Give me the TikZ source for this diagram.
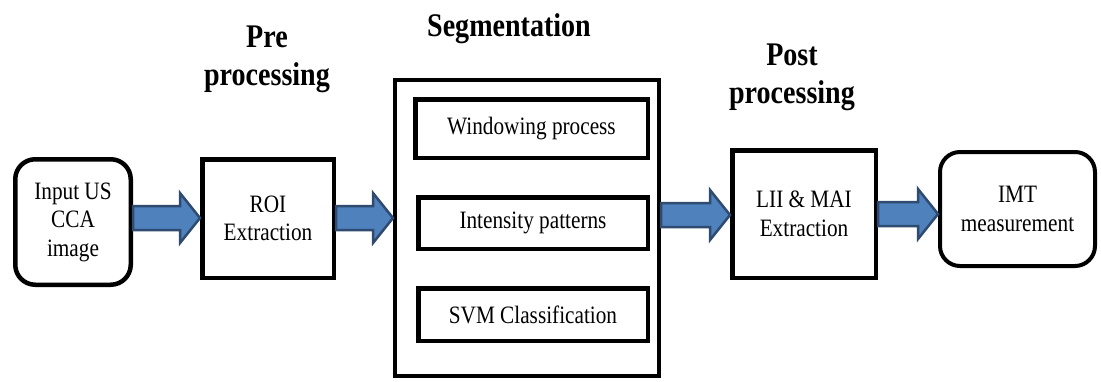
\documentclass[tikz,border=0pt]{standalone}
\usepackage{fontspec}
\setmainfont[FakeStretch=0.85]{Liberation Serif}
\usetikzlibrary{calc}
\definecolor{arrfill}{HTML}{4F81BD}
\definecolor{arrline}{HTML}{2F4B70}
\tikzset{
  boxA/.style={draw=black, line width=4.5pt, fill=white, inner sep=0pt, align=center,
    font=\fontsize{25}{28.5}\selectfont},
  roundbox/.style={boxA, rounded corners=20pt},
  titletext/.style={align=center, inner sep=0pt, font=\fontsize{33}{38}\selectfont\bfseries},
  barrow/.style={fill=arrfill, draw=arrline, line width=2.5pt, line join=miter},
}
\newcommand\blockarr[3]{%
  \path let \p1=(#1.east), \p2=(#2.west), \p3=(#3) in
    [barrow] (\x1,\y3-12pt) -- (\x2-20pt,\y3-12pt) -- (\x2-20pt,\y3-25pt) -- (\x2,\y3)
      -- (\x2-20pt,\y3+25pt) -- (\x2-20pt,\y3+12pt) -- (\x1,\y3+12pt) -- cycle;}
\begin{document}
\begin{tikzpicture}[x=1pt,y=-1pt]
\useasboundingbox (0,0) rectangle (1101,381);
% axes for block arrows
\coordinate (ax1) at (0,218);
\coordinate (ax2) at (0,218);
\coordinate (ax3) at (0,215);
\coordinate (ax4) at (0,214);
% boxes
\node[roundbox, minimum width=115.5pt, minimum height=125.5pt] (in) at (73,222) {Input US\\CCA\\image};
\node[boxA, minimum width=131.5pt, minimum height=118.5pt] (roi) at (268,218.5) {ROI\\Extraction};
\node[boxA, line width=4pt, minimum width=264pt, minimum height=296pt] (seg) at (527,228) {};
\node[boxA, minimum width=232.5pt, minimum height=58.5pt] (win) at (531.5,128.5) {Windowing process};
\node[boxA, minimum width=229.5pt, minimum height=51.5pt] (int) at (533,223) {Intensity patterns};
\node[boxA, minimum width=229.5pt, minimum height=52.5pt] (svm) at (533,314.5) {SVM Classification};
\node[boxA, minimum width=143.5pt, minimum height=127.5pt] (lii) at (804,214) {LII \& MAI\\Extraction};
\node[roundbox, line width=4pt, minimum width=155pt, minimum height=114pt] (imt) at (1017.5,209) {IMT\\measurement};
% arrows
\blockarr{in}{roi}{ax1}
\blockarr{roi}{seg}{ax2}
\blockarr{seg}{lii}{ax3}
\blockarr{lii}{imt}{ax4}
% titles
\node[titletext, anchor=base] (tpre) at (267,85) {Pre\\processing};
\node[titletext, anchor=base] (tseg) at (509,36) {Segmentation};
\node[titletext, anchor=base] (tpost) at (792,103) {Post\\processing};
\end{tikzpicture}
\end{document}
